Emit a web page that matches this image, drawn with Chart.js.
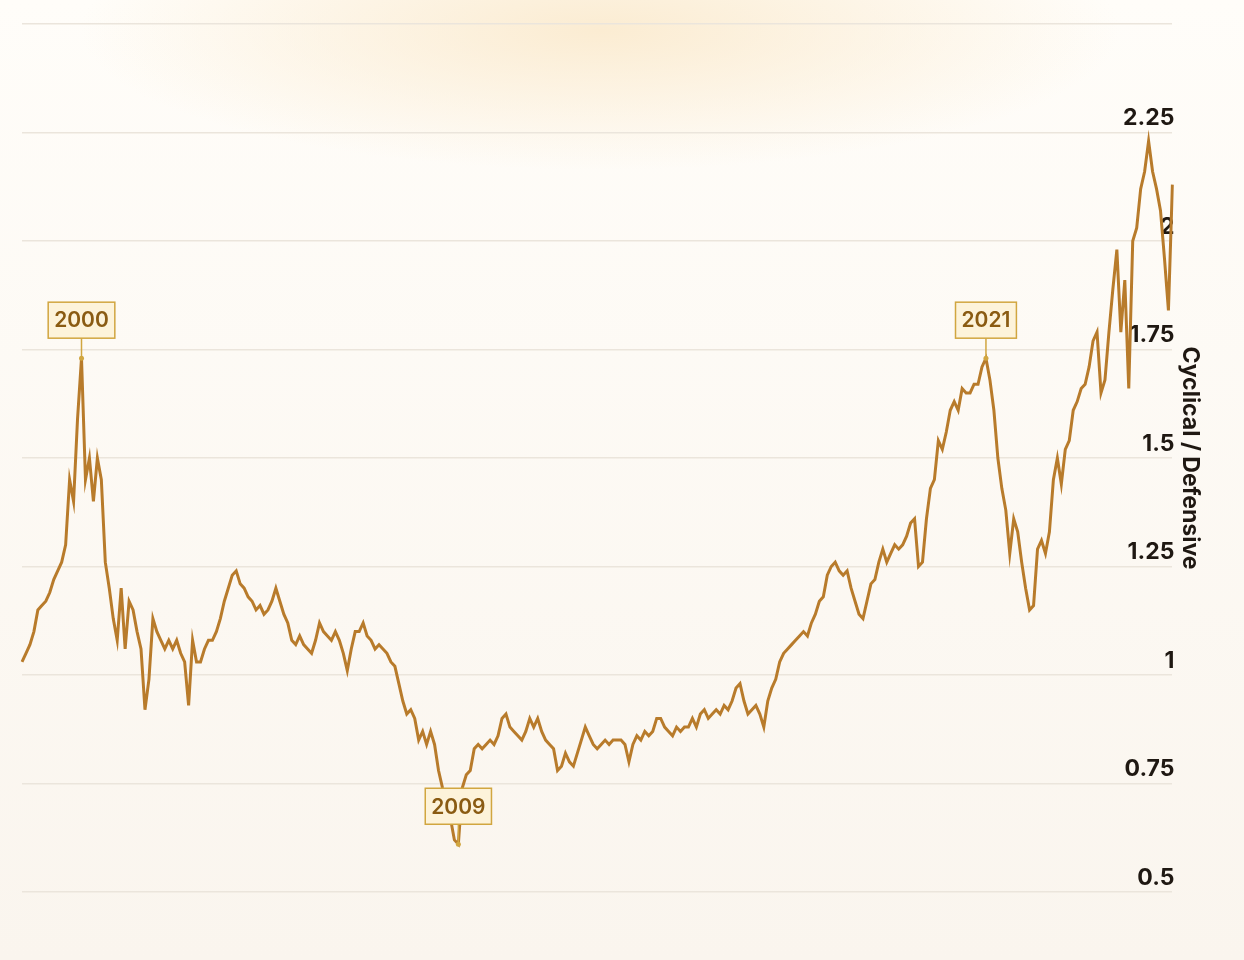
<!DOCTYPE html>
<html>
<head>
<meta charset="utf-8">
<script src="https://cdn.jsdelivr.net/npm/chart.js@4"></script>
<style>
  html, body { margin: 0; padding: 0; }
  body {
    width: 1244px; height: 960px; overflow: hidden;
    background: radial-gradient(ellipse 520px 140px at 600px 30px, #fbecd2 0%, rgba(251,236,210,0) 100%),
                linear-gradient(#fffdf9, #faf5ee);
  }
  #wrap { width: 1244px; height: 960px; }
</style>
</head>
<body>
<div id="wrap"><canvas id="chart"></canvas></div>
<script>
// ratio of cyclical to defensive stocks (roughly weekly-ish steps)
const ratio = [
  1.03, 1.05, 1.07, 1.10, 1.15, 1.16, 1.17, 1.19, 1.22, 1.24, 1.26, 1.30,
  1.45, 1.40, 1.59, 1.73, 1.45, 1.50, 1.40, 1.50, 1.45, 1.26, 1.20, 1.13, 1.08, 1.20,
  1.06, 1.17, 1.15, 1.10, 1.06, 0.92, 0.99, 1.13, 1.10, 1.08, 1.06, 1.08, 1.06, 1.08,
  1.05, 1.03, 0.93, 1.08, 1.03, 1.03, 1.06, 1.08, 1.08, 1.10, 1.13, 1.17, 1.20, 1.23,
  1.24, 1.21, 1.20, 1.18, 1.17, 1.15, 1.16, 1.14, 1.15, 1.17, 1.20, 1.17, 1.14, 1.12,
  1.08, 1.07, 1.09, 1.07, 1.06, 1.05, 1.08, 1.12, 1.10, 1.09, 1.08, 1.10, 1.08, 1.05,
  1.01, 1.06, 1.10, 1.10, 1.12, 1.09, 1.08, 1.06, 1.07, 1.06, 1.05, 1.03, 1.02, 0.98,
  0.94, 0.91, 0.92, 0.90, 0.85, 0.87, 0.84, 0.87, 0.84, 0.78, 0.74, 0.71, 0.67, 0.62,
  0.61, 0.74, 0.77, 0.78, 0.83, 0.84, 0.83, 0.84, 0.85, 0.84, 0.86, 0.90, 0.91, 0.88,
  0.87, 0.86, 0.85, 0.87, 0.90, 0.88, 0.90, 0.87, 0.85, 0.84, 0.83, 0.78, 0.79, 0.82,
  0.80, 0.79, 0.82, 0.85, 0.88, 0.86, 0.84, 0.83, 0.84, 0.85, 0.84, 0.85, 0.85, 0.85,
  0.84, 0.80, 0.84, 0.86, 0.85, 0.87, 0.86, 0.87, 0.90, 0.90, 0.88, 0.87, 0.86, 0.88,
  0.87, 0.88, 0.88, 0.90, 0.88, 0.91, 0.92, 0.90, 0.91, 0.92, 0.91, 0.93, 0.92, 0.94,
  0.97, 0.98, 0.94, 0.91, 0.92, 0.93, 0.91, 0.88, 0.94, 0.97, 0.99, 1.03, 1.05, 1.06,
  1.07, 1.08, 1.09, 1.10, 1.09, 1.12, 1.14, 1.17, 1.18, 1.23, 1.25, 1.26, 1.24, 1.23,
  1.24, 1.20, 1.17, 1.14, 1.13, 1.17, 1.21, 1.22, 1.26, 1.29, 1.26, 1.28, 1.30, 1.29,
  1.30, 1.32, 1.35, 1.36, 1.25, 1.26, 1.36, 1.43, 1.45, 1.54, 1.52, 1.56, 1.61, 1.63,
  1.61, 1.66, 1.65, 1.65, 1.67, 1.67, 1.71, 1.73, 1.68, 1.61, 1.50, 1.43, 1.38, 1.28,
  1.36, 1.33, 1.26, 1.20, 1.15, 1.16, 1.29, 1.31, 1.28, 1.33, 1.45, 1.50, 1.44, 1.52,
  1.54, 1.61, 1.63, 1.66, 1.67, 1.71, 1.77, 1.79, 1.65, 1.68, 1.79, 1.89, 1.98, 1.79,
  1.91, 1.66, 2.00, 2.03, 2.12, 2.16, 2.23, 2.16, 2.12, 2.07, 1.96, 1.84, 2.13
];
const labels = ratio.map((v, i) => i);
const yTicks = [0.5, 0.75, 1, 1.25, 1.5, 1.75, 2, 2.25, 2.5];
const callouts = ['2000', '2009', '2021'];

function findPeak(from, to, useMin) {
  let best = from;
  for (let i = from; i < to; i++) {
    if (useMin ? ratio[i] < ratio[best] : ratio[i] > ratio[best]) best = i;
  }
  return best;
}
const n = ratio.length;
const calloutIdx = [
  findPeak(0, Math.floor(n * 0.2), false),
  findPeak(0, n, true),
  findPeak(Math.floor(n * 0.7), Math.floor(n * 0.85), false)
];

const calloutPlugin = {
  id: 'callouts',
  afterDatasetsDraw(chart) {
    const ctx = chart.ctx;
    const xs = chart.scales.x, ys = chart.scales.y;
    ctx.save();
    ctx.font = '600 21px Inter, "Noto Sans", sans-serif';
    callouts.forEach((txt, k) => {
      const i = calloutIdx[k];
      const px = xs.getPixelForValue(i), py = ys.getPixelForValue(ratio[i]);
      const w = ctx.measureText(txt).width + 12, h = 36;
      const boxBottom = py - 20;
      ctx.strokeStyle = '#d1a640';
      ctx.lineWidth = 1.5;
      ctx.beginPath();
      ctx.moveTo(px, boxBottom); ctx.lineTo(px, py); ctx.stroke();
      ctx.fillStyle = '#d1a640';
      ctx.beginPath(); ctx.arc(px, py, 2.5, 0, Math.PI * 2); ctx.fill();
      ctx.fillStyle = '#fdf3da';
      ctx.fillRect(px - w / 2, boxBottom - h, w, h);
      ctx.strokeRect(px - w / 2, boxBottom - h, w, h);
      ctx.fillStyle = '#8a5b12';
      ctx.textAlign = 'center';
      ctx.textBaseline = 'middle';
      ctx.fillText(txt, px, boxBottom - h / 2 + 1);
    });
    ctx.restore();
  }
};

new Chart(document.getElementById('chart'), {
  type: 'line',
  data: {
    labels: labels,
    datasets: [{
      data: ratio,
      borderColor: '#b87b2b',
      borderWidth: 3,
      pointRadius: 0,
      tension: 0
    }]
  },
  options: {
    responsive: true,
    maintainAspectRatio: false,
    animation: false,
    layout: { padding: { left: 22, top: 24, bottom: 68, right: 28 } },
    plugins: { legend: { display: false }, tooltip: { enabled: false } },
    scales: {
      x: { type: 'category', display: false, offset: false },
      y: {
        position: 'right',
        min: 0.5, max: 2.5,
        z: 1,
        afterBuildTicks(scale) { scale.ticks = yTicks.map(v => ({ value: v })); },
        grid: { color: '#ebe5dc', lineWidth: 1.5, drawTicks: false },
        border: { display: false },
        ticks: {
          mirror: true,
          padding: 2,
          labelOffset: -14,
          color: '#1f1812',
          font: { family: 'Inter, "Noto Sans", sans-serif', size: 23, weight: '700' },
          callback: v => (v === 2.5 ? '' : String(v))
        },
        title: {
          display: true,
          text: 'Cyclical / Defensive',
          color: '#1f1812',
          padding: { top: 12, bottom: 0 },
          font: { family: 'Inter, "Noto Sans", sans-serif', size: 23, weight: '700' }
        }
      }
    }
  },
  plugins: [calloutPlugin]
});
</script>
</body>
</html>
